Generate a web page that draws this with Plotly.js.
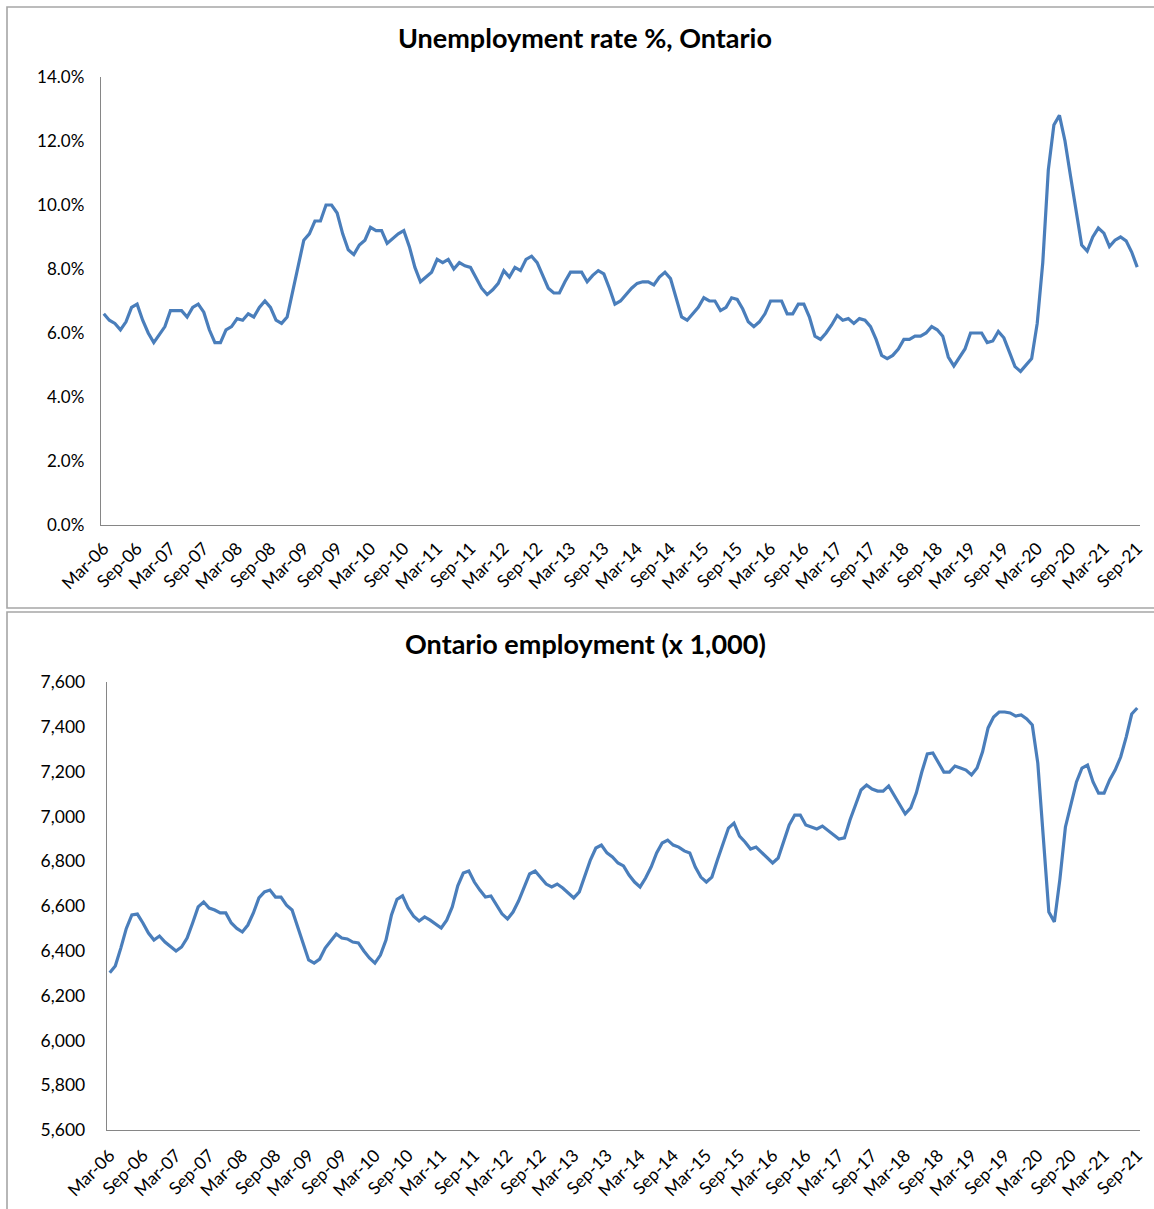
<!DOCTYPE html>
<html>
<head>
<meta charset="utf-8">
<script src="https://cdn.plot.ly/plotly-3.0.1.min.js"></script>
<style>
html,body{margin:0;padding:0;background:#ffffff;}
#chart{width:1154px;height:1209px;}
</style>
</head>
<body>
<div id="chart"></div>
<script>
// Monthly categories, Mar-06 .. Sep-21
const monthNames = ['Jan','Feb','Mar','Apr','May','Jun','Jul','Aug','Sep','Oct','Nov','Dec'];
const firstYear = 2006, firstMonthIndex = 2, lastYear = 2021, lastMonthIndex = 8;

// Unemployment rate %, Ontario
const unemploymentRate = [
 6.6,6.4,6.3,6.1,6.35,6.8,6.9,6.4,6.0,5.7,5.95,6.2,
 6.7,6.7,6.7,6.5,6.8,6.9,6.65,6.1,5.7,5.7,6.1,6.2,
 6.45,6.4,6.6,6.5,6.8,7.0,6.8,6.4,6.3,6.5,7.3,8.1,
 8.9,9.1,9.5,9.5,10.0,10.0,9.75,9.1,8.6,8.45,8.75,8.9,
 9.3,9.2,9.2,8.8,8.95,9.1,9.2,8.7,8.05,7.6,7.75,7.9,
 8.3,8.2,8.3,8.0,8.2,8.1,8.05,7.7,7.4,7.2,7.35,7.55,
 7.95,7.75,8.05,7.95,8.3,8.4,8.2,7.8,7.4,7.25,7.25,7.6,
 7.9,7.9,7.9,7.6,7.8,7.95,7.85,7.4,6.9,7.0,7.2,7.4,
 7.55,7.6,7.6,7.5,7.75,7.9,7.7,7.1,6.5,6.4,6.6,6.8,
 7.1,7.0,7.0,6.7,6.8,7.1,7.05,6.75,6.35,6.2,6.35,6.6,
 7.0,7.0,7.0,6.6,6.6,6.9,6.9,6.5,5.9,5.8,6.0,6.25,
 6.55,6.4,6.45,6.3,6.45,6.4,6.2,5.8,5.3,5.2,5.3,5.5,
 5.8,5.8,5.9,5.9,6.0,6.2,6.1,5.9,5.25,4.97,5.25,5.5,
 6.0,6.0,6.0,5.7,5.75,6.05,5.85,5.4,4.95,4.8,5.0,5.2,
 6.3,8.2,11.1,12.5,12.8,12.0,10.9,9.8,8.75,8.56,9.0,9.28,
 9.12,8.7,8.9,9.0,8.88,8.53,8.06
];

// Ontario employment (x 1,000)
const employment = [
 6302,6332,6412,6500,6560,6564,6524,6479,6448,6466,6439,6421,
 6399,6417,6457,6524,6596,6618,6591,6582,6569,6569,6524,6500,
 6484,6515,6569,6636,6663,6671,6640,6640,6604,6582,6506,6426,
 6359,6345,6363,6412,6444,6475,6457,6453,6439,6435,6399,6368,
 6345,6381,6448,6560,6630,6645,6591,6555,6533,6551,6537,6520,
 6502,6537,6596,6690,6747,6756,6707,6671,6640,6645,6605,6565,
 6542,6573,6622,6683,6743,6756,6725,6698,6685,6698,6680,6658,
 6636,6663,6729,6805,6859,6872,6837,6819,6792,6779,6738,6707,
 6685,6725,6774,6837,6881,6894,6872,6863,6846,6837,6774,6729,
 6707,6729,6805,6881,6948,6970,6912,6886,6854,6863,6839,6816,
 6792,6814,6886,6962,7006,7006,6962,6953,6944,6957,6939,6917,
 6899,6904,6984,7051,7118,7140,7122,7113,7113,7136,7096,7051,
 7011,7038,7104,7198,7279,7283,7243,7198,7198,7225,7216,7207,
 7185,7216,7288,7395,7444,7466,7466,7462,7448,7453,7435,7408,
 7238,6881,6573,6529,6720,6953,7060,7154,7216,7229,7154,7104,
 7104,7163,7207,7265,7354,7457,7484
];

const months = [];
for (let y = firstYear, m = firstMonthIndex; y < lastYear || (y === lastYear && m <= lastMonthIndex); ) {
  months.push(monthNames[m] + '-' + String(y % 100).padStart(2, '0'));
  m++; if (m === 12) { m = 0; y++; }
}
const tickLabels = months.filter((_, i) => i % 6 === 0);

const W = 1154, H = 1209;
const px = v => v / W;
const py = v => 1 - v / H;

const FONT = "Lato, 'Open Sans', 'DejaVu Sans', sans-serif";
const lineColor = '#4A7EBB';
const axisColor = '#868686';
const borderColor = '#A6A6A6';

const traces = [
  { x: months, y: unemploymentRate, type: 'scatter', mode: 'lines',
    line: { color: lineColor, width: 3.2 }, xaxis: 'x', yaxis: 'y',
    hoverinfo: 'x+y', showlegend: false },
  { x: months, y: employment, type: 'scatter', mode: 'lines',
    line: { color: lineColor, width: 3.2 }, xaxis: 'x2', yaxis: 'y2',
    hoverinfo: 'x+y', showlegend: false }
];

const xCommon = {
  type: 'category', range: [-0.5, months.length - 0.5],
  tickmode: 'array', tickvals: tickLabels, ticktext: tickLabels,
  tickangle: -45, ticks: '', showgrid: false, zeroline: false,
  showline: true, linecolor: axisColor, linewidth: 1.3,
  tickfont: { family: FONT, size: 17.5, color: '#000' },
  fixedrange: true
};

const layout = {
  width: W, height: H,
  margin: { l: 0, r: 0, t: 0, b: 0, pad: 0 },
  paper_bgcolor: '#ffffff', plot_bgcolor: '#ffffff',
  showlegend: false,
  title: { text: 'Unemployment rate %, Ontario', x: 585 / W, xanchor: 'center',
           y: py(39), yanchor: 'middle', yref: 'paper',
           font: { family: FONT, size: 27, color: '#000', weight: 'bold' } },
  xaxis: Object.assign({}, xCommon, { domain: [px(101), px(1140)], anchor: 'y', ticklabelstandoff: 5 }),
  yaxis: { domain: [py(525), py(77)], anchor: 'x', range: [0, 14], dtick: 2, tick0: 0,
           tickformat: '.1f', ticksuffix: '%', ticks: '', showgrid: false, zeroline: false,
           showline: true, linecolor: axisColor, linewidth: 1.3, ticklabelstandoff: 12,
           tickfont: { family: FONT, size: 17, color: '#000' }, fixedrange: true },
  xaxis2: Object.assign({}, xCommon, { domain: [px(107), px(1140)], anchor: 'y2', ticklabelstandoff: 7 }),
  yaxis2: { domain: [py(1130), py(682)], anchor: 'x2', range: [5600, 7600], dtick: 200, tick0: 5600,
            tickformat: ',d', ticks: '', showgrid: false, zeroline: false,
            showline: true, linecolor: axisColor, linewidth: 1.3, ticklabelstandoff: 17,
            tickfont: { family: FONT, size: 17.5, color: '#000' }, fixedrange: true },
  annotations: [
    { text: 'Ontario employment (x 1,000)', xref: 'paper', yref: 'paper',
      x: 585 / W, y: py(643), xanchor: 'center', yanchor: 'middle', showarrow: false,
      font: { family: FONT, size: 27, color: '#000', weight: 'bold' } }
  ],
  shapes: [
    { type: 'rect', xref: 'paper', yref: 'paper', x0: px(7), x1: px(1160), y0: py(608), y1: py(7),
      line: { color: borderColor, width: 1.6 }, fillcolor: 'rgba(0,0,0,0)', layer: 'below' },
    { type: 'rect', xref: 'paper', yref: 'paper', x0: px(7), x1: px(1160), y0: py(1220), y1: py(612),
      line: { color: borderColor, width: 1.6 }, fillcolor: 'rgba(0,0,0,0)', layer: 'below' }
  ]
};

Plotly.newPlot('chart', traces, layout, { displayModeBar: false, staticPlot: true });
</script>
</body>
</html>
